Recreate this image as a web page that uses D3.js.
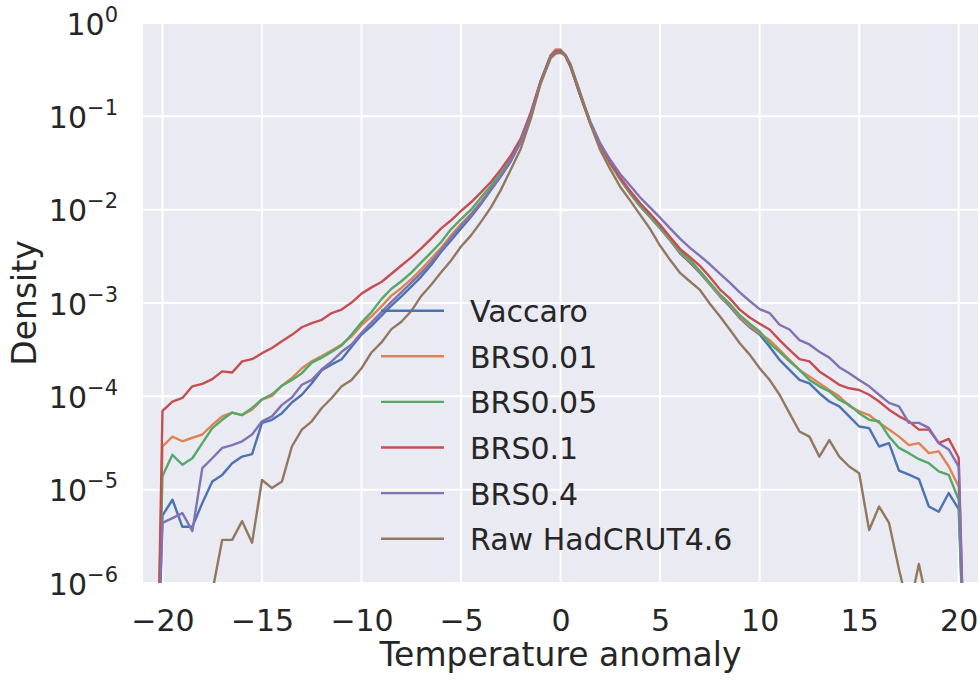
<!DOCTYPE html>
<html>
<head>
<meta charset="utf-8">
<script src="https://d3js.org/d3.v7.min.js"></script>
<style>
  body { margin: 0; background: #fff; }
  text { font-family: "DejaVu Sans", sans-serif; fill: #262626; }
</style>
</head>
<body>
<div id="chart"></div>
<script>
// temperature anomaly grid (shared by every series)
var xs = [-20.25, -20, -19.5, -19, -18.5, -18, -17.5, -17, -16.5, -16, -15.5, -15, -14.5, -14, -13.5, -13,
  -12.5, -12, -11.5, -11, -10.5, -10, -9.5, -9, -8.5, -8, -7.5, -7, -6.5, -6, -5.5, -5, -4.5, -4, -3.5, -3,
  -2.5, -2, -1.5, -1, -0.5, -0.25, 0, 0.25, 0.5, 1, 1.5, 2, 2.5, 3, 3.5, 4, 4.5, 5, 5.5, 6, 6.5, 7, 7.5, 8,
  8.5, 9, 9.5, 10, 10.5, 11, 11.5, 12, 12.5, 13, 13.5, 14, 14.5, 15, 15.5, 16, 16.5, 17, 17.5, 18, 18.5, 19,
  19.5, 20, 20.3]

// densities
var vaccaro = [1e-7, 5.3e-6, 7.8e-6, 4.0e-6, 4.0e-6, 7.2e-6, 1.22e-5, 1.44e-5, 1.92e-5, 2.26e-5, 2.4e-5, 5.2e-5, 5.6e-5, 6.6e-5, 8.6e-5, 1.04e-4,
  1.38e-4, 1.9e-4, 2.2e-4, 2.5e-4, 3.4e-4, 4.6e-4, 5.7e-4, 7.3e-4, 9.4e-4, 1.18e-3, 1.5e-3, 1.92e-3, 2.55e-3, 3.54e-3, 4.7e-3, 6.3e-3, 8.4e-3, 1.15e-2, 1.62e-2, 2.28e-2,
  3.3e-2, 5.3e-2, 0.103, 0.235, 0.44, 0.50, 0.50, 0.44, 0.34, 0.165, 0.083, 0.048, 0.031, 0.021, 0.0148, 0.0108, 0.0083, 0.0063, 0.0047, 0.0034, 0.0027, 0.0021, 0.00158, 0.00118,
  0.00092, 0.00069, 0.00055, 0.00046, 3.4e-4, 2.46e-4, 1.92e-4, 1.5e-4, 1.38e-4, 1.08e-4, 8.8e-5, 7.8e-5, 6.1e-5, 4.75e-5, 4.56e-5, 2.9e-5, 3.15e-5, 1.6e-5, 1.45e-5, 1.3e-5, 6.6e-6, 5.8e-6,
  9.2e-6, 6.2e-6, 1e-7]
var brs001 = [1e-7, 2.9e-5, 3.7e-5, 3.3e-5, 3.6e-5, 3.9e-5, 4.95e-5, 6.1e-5, 6.7e-5, 6.3e-5, 7.2e-5, 9.2e-5, 1.01e-4, 1.3e-4, 1.57e-4, 2.0e-4,
  2.37e-4, 2.7e-4, 3.1e-4, 3.6e-4, 4.4e-4, 5.8e-4, 7.2e-4, 9.2e-4, 1.2e-3, 1.45e-3, 1.8e-3, 2.3e-3, 3.0e-3, 3.9e-3, 5.3e-3, 7.0e-3, 9.0e-3, 1.22e-2, 1.68e-2, 2.35e-2,
  3.4e-2, 5.4e-2, 0.104, 0.237, 0.45, 0.52, 0.52, 0.45, 0.34, 0.165, 0.083, 0.048, 0.031, 0.021, 0.015, 0.011, 0.0084, 0.0064, 0.0048, 0.0035, 0.0028, 0.00215, 0.0016, 0.0012,
  0.00095, 0.00071, 0.00057, 0.000475, 4.0e-4, 3.15e-4, 2.46e-4, 1.92e-4, 1.63e-4, 1.38e-4, 1.17e-4, 1.0e-4, 7.9e-5, 6.9e-5, 6.3e-5, 5.2e-5, 4.4e-5, 3.7e-5, 3.0e-5, 3.15e-5, 2.46e-5, 2.57e-5,
  1.77e-5, 1.08e-5, 1e-7]
var brs005 = [1e-7, 1.4e-5, 2.36e-5, 1.85e-5, 2.17e-5, 3.15e-5, 4.56e-5, 5.6e-5, 6.7e-5, 6.3e-5, 7.5e-5, 9.3e-5, 1.05e-4, 1.3e-4, 1.5e-4, 1.77e-4,
  2.3e-4, 2.6e-4, 3.0e-4, 3.5e-4, 4.6e-4, 6.2e-4, 8.0e-4, 1.1e-3, 1.42e-3, 1.71e-3, 2.12e-3, 2.72e-3, 3.48e-3, 4.5e-3, 6.2e-3, 7.9e-3, 1.0e-2, 1.35e-2, 1.8e-2, 2.45e-2,
  3.5e-2, 5.5e-2, 0.105, 0.237, 0.45, 0.51, 0.51, 0.45, 0.34, 0.166, 0.084, 0.049, 0.0315, 0.0213, 0.0152, 0.0111, 0.0085, 0.0065, 0.0049, 0.0036, 0.0029, 0.0022, 0.00165, 0.00124,
  0.00098, 0.00074, 0.0006, 0.000495, 3.7e-4, 3.0e-4, 2.37e-4, 1.92e-4, 1.5e-4, 1.28e-4, 1.13e-4, 9.2e-5, 8.1e-5, 6.6e-5, 5.6e-5, 5.4e-5, 3.7e-5, 2.8e-5, 2.46e-5, 2.12e-5, 1.92e-5, 1.57e-5,
  1.44e-5, 7.8e-6, 1e-7]
var brs01 = [1e-7, 7.0e-5, 8.8e-5, 9.6e-5, 1.28e-4, 1.36e-4, 1.53e-4, 1.85e-4, 1.8e-4, 2.37e-4, 2.5e-4, 2.9e-4, 3.3e-4, 3.9e-4, 4.56e-4, 5.5e-4,
  6.1e-4, 6.6e-4, 7.8e-4, 8.5e-4, 1.01e-3, 1.26e-3, 1.47e-3, 1.68e-3, 2.06e-3, 2.52e-3, 3.08e-3, 3.84e-3, 4.9e-3, 6.3e-3, 7.7e-3, 9.7e-3, 1.2e-2, 1.53e-2, 1.98e-2, 2.7e-2,
  3.8e-2, 5.8e-2, 0.11, 0.24, 0.44, 0.50, 0.50, 0.44, 0.34, 0.166, 0.084, 0.049, 0.032, 0.022, 0.0158, 0.0117, 0.009, 0.0069, 0.0051, 0.0038, 0.0031, 0.0025, 0.0019, 0.0014,
  0.00112, 0.00085, 0.0007, 0.0006, 5.2e-4, 4.0e-4, 3.15e-4, 2.5e-4, 2.37e-4, 1.85e-4, 1.57e-4, 1.33e-4, 1.22e-4, 1.17e-4, 1.04e-4, 8.8e-5, 7.2e-5, 6.1e-5, 5.4e-5, 4.4e-5, 4.4e-5, 3.15e-5,
  3.5e-5, 2.2e-5, 1e-7]
var brs04 = [1e-7, 4.4e-6, 4.95e-6, 5.6e-6, 3.6e-6, 1.7e-5, 2.17e-5, 2.8e-5, 3.0e-5, 3.3e-5, 3.9e-5, 5.4e-5, 6.1e-5, 8.1e-5, 9.7e-5, 1.33e-4,
  1.5e-4, 1.95e-4, 2.37e-4, 3.0e-4, 3.6e-4, 4.8e-4, 6.2e-4, 8.0e-4, 1.03e-3, 1.3e-3, 1.65e-3, 2.1e-3, 2.75e-3, 3.7e-3, 5.0e-3, 6.7e-3, 8.8e-3, 1.18e-2, 1.65e-2, 2.3e-2,
  3.35e-2, 5.4e-2, 0.103, 0.232, 0.43, 0.48, 0.49, 0.45, 0.35, 0.172, 0.087, 0.051, 0.034, 0.024, 0.018, 0.0135, 0.0105, 0.0082, 0.0063, 0.0049, 0.0039, 0.0032, 0.0026, 0.00206,
  0.00165, 0.0013, 0.00105, 0.00086, 7.8e-4, 5.85e-4, 5.2e-4, 4.0e-4, 3.6e-4, 3.0e-4, 2.6e-4, 2.05e-4, 1.77e-4, 1.5e-4, 1.28e-4, 1.04e-4, 8.5e-5, 7.8e-5, 5.2e-5, 5.2e-5, 4.6e-5, 3.15e-5,
  2.7e-5, 1.77e-5, 1e-7]
var rawHad = [3e-7, 3e-7, 3e-7, 3e-7, 3e-7, 4e-7, 8e-7, 2.9e-6, 2.9e-6, 4.6e-6, 2.7e-6, 1.27e-5, 1.04e-5, 1.22e-5, 2.9e-5, 4.4e-5,
  5.4e-5, 7.5e-5, 9.6e-5, 1.28e-4, 1.5e-4, 2.0e-4, 2.95e-4, 3.78e-4, 5.25e-4, 6.3e-4, 8.2e-4, 1.19e-3, 1.57e-3, 2.14e-3, 2.86e-3, 4.03e-3, 5.3e-3, 7.4e-3, 1.06e-2, 1.63e-2,
  2.7e-2, 4.5e-2, 0.094, 0.225, 0.42, 0.47, 0.48, 0.45, 0.36, 0.175, 0.082, 0.043, 0.027, 0.0175, 0.0125, 0.0088, 0.0062, 0.0041, 0.0029, 0.0021, 0.0017, 0.00138, 0.00098, 0.00072,
  0.00052, 0.00037, 0.00028, 0.0002, 1.5e-4, 1.04e-4, 6.6e-5, 4.2e-5, 3.7e-5, 2.26e-5, 3.4e-5, 2.26e-5, 1.77e-5, 1.5e-5, 3.7e-6, 6.6e-6, 4.4e-6, 1.4e-6, 5e-7, 1.6e-6, 5e-7, 3e-7,
  3e-7, 3e-7, 3e-7]

var seriesNames = ["Vaccaro", "BRS0.01", "BRS0.05", "BRS0.1", "BRS0.4", "Raw HadCRUT4.6"]
var seriesValues = [vaccaro, brs001, brs005, brs01, brs04, rawHad]
var colors = ["#4c72b0", "#dd8452", "#55a868", "#c44e52", "#8172b3", "#937860"]

var xTicks = [-20, -15, -10, -5, 0, 5, 10, 15, 20]
var yExps = [0, -1, -2, -3, -4, -5, -6]

var width = 980, height = 681
var margin = {top: 23, right: 2, bottom: 98, left: 143}

var svg = d3.select("#chart").append("svg")
  .attr("width", width)
  .attr("height", height)

var x = d3.scaleLinear()
  .domain([-20.98, 20.97])
  .range([margin.left, width - margin.right])

var y = d3.scaleLog()
  .domain([1e-6, 1])
  .range([height - margin.bottom, margin.top])

// panel
svg.append("rect")
  .attr("x", margin.left)
  .attr("y", margin.top)
  .attr("width", width - margin.left - margin.right)
  .attr("height", height - margin.top - margin.bottom)
  .attr("fill", "#eaeaf2")

// grid
svg.append("g").selectAll("line.vx")
  .data(xTicks)
  .enter().append("line")
  .attr("x1", function(d){ return x(d) })
  .attr("x2", function(d){ return x(d) })
  .attr("y1", margin.top)
  .attr("y2", height - margin.bottom)
  .attr("stroke", "white")
  .attr("stroke-width", 2)

svg.append("g").selectAll("line.hy")
  .data(yExps)
  .enter().append("line")
  .attr("x1", margin.left)
  .attr("x2", width - margin.right)
  .attr("y1", function(d){ return y(Math.pow(10, d)) })
  .attr("y2", function(d){ return y(Math.pow(10, d)) })
  .attr("stroke", "white")
  .attr("stroke-width", 2)

// x axis
var xAxis = svg.append("g")
  .attr("transform", "translate(0," + (height - margin.bottom) + ")")
  .call(d3.axisBottom(x).tickValues(xTicks).tickSize(0).tickPadding(27)
    .tickFormat(function(d){ return d < 0 ? "\u2212" + Math.abs(d) : "" + d }))
xAxis.select(".domain").remove()
xAxis.selectAll("text")
  .attr("font-size", 30)
  .attr("font-family", "DejaVu Sans")
  .attr("fill", "#262626")

// y axis with 10^n labels
var yAxis = svg.append("g")
  .attr("transform", "translate(" + margin.left + ",0)")
  .call(d3.axisLeft(y).tickValues(yExps.map(function(e){ return Math.pow(10, e) })).tickSize(0).tickFormat(""))
yAxis.select(".domain").remove()

var ylab = svg.append("g").selectAll("text")
  .data(yExps)
  .enter().append("text")
  .attr("x", 118)
  .attr("y", function(d){ return y(Math.pow(10, d)) + 11.5 })
  .attr("text-anchor", "end")
  .attr("font-size", 30)
ylab.append("tspan").text("10")
ylab.append("tspan")
  .attr("dy", -13)
  .attr("font-size", 21)
  .text(function(d){ return d < 0 ? "\u2212" + Math.abs(d) : "" + d })

// axis titles
svg.append("text")
  .attr("x", (margin.left + width - margin.right) / 2)
  .attr("y", 666)
  .attr("text-anchor", "middle")
  .attr("font-size", 33)
  .text("Temperature anomaly")

svg.append("text")
  .attr("transform", "translate(36," + ((margin.top + height - margin.bottom) / 2) + ") rotate(-90)")
  .attr("text-anchor", "middle")
  .attr("font-size", 33)
  .text("Density")

// lines
svg.append("clipPath").attr("id", "clip")
  .append("rect")
  .attr("x", margin.left)
  .attr("y", margin.top)
  .attr("width", width - margin.left - margin.right)
  .attr("height", height - margin.top - margin.bottom)

var line = d3.line()
  .x(function(d){ return x(d[0]) })
  .y(function(d){ return y(d[1]) })

var plot = svg.append("g").attr("clip-path", "url(#clip)")
seriesValues.forEach(function(vals, i){
  plot.append("path")
    .datum(xs.map(function(v, j){ return [v, vals[j]] }))
    .attr("d", line)
    .attr("fill", "none")
    .attr("stroke", colors[i])
    .attr("stroke-width", 2.4)
    .attr("stroke-linejoin", "round")
})

// legend
var legend = svg.append("g")
var rows = legend.selectAll("g")
  .data(seriesNames)
  .enter().append("g")
  .attr("transform", function(d, i){ return "translate(0," + (310.7 + i * 45.6) + ")" })
rows.append("line")
  .attr("x1", 381).attr("x2", 444)
  .attr("y1", 0).attr("y2", 0)
  .attr("stroke", function(d, i){ return colors[i] })
  .attr("stroke-width", 2.4)
rows.append("text")
  .attr("x", 470)
  .attr("y", 11.5)
  .attr("font-size", 30)
  .text(function(d){ return d })
</script>
</body>
</html>
